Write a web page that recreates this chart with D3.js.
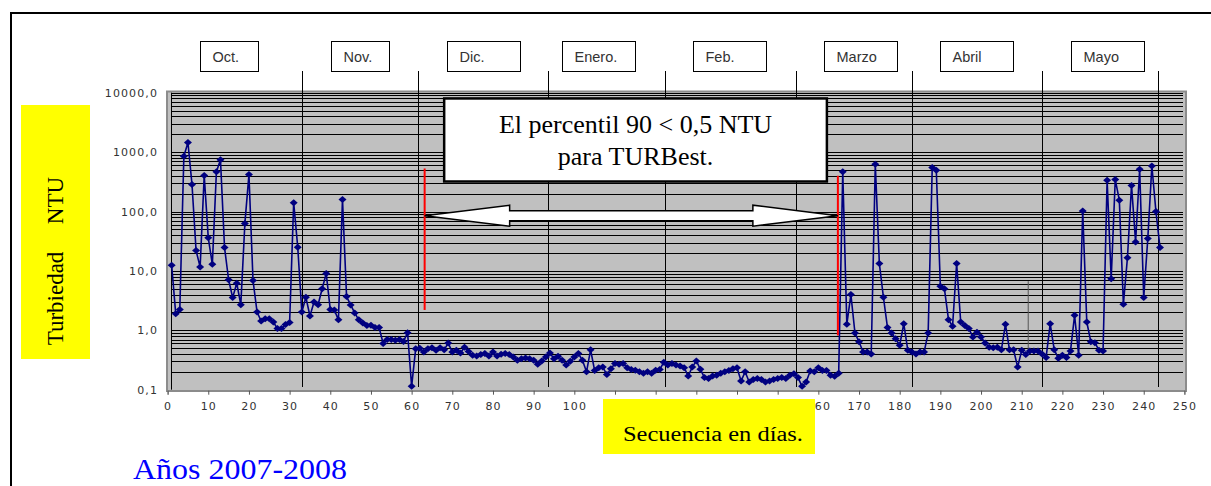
<!DOCTYPE html>
<html>
<head>
<meta charset="utf-8">
<script src="https://cdn.jsdelivr.net/npm/d3@7"></script>
<style>
  body { margin: 0; background: #fff; }
  svg { display: block; }
</style>
</head>
<body>
<svg id="chart" width="1211" height="486"></svg>
<script>
// Daily turbidity (NTU), day 1 .. 244 of the 2007-2008 season
const turbidity = [
  12.4, 1.9, 2.25, 850, 1450, 285, 22, 11.6, 405, 36,
  12.9, 465, 745, 24.7, 7.1, 3.55, 6.2, 2.7, 63, 418,
  6.9, 2.03, 1.43, 1.57, 1.57, 1.38, 1.07, 1.07, 1.25, 1.35,
  141, 25, 2.03, 3.6, 1.74, 3.0, 2.7, 5.0, 9.0, 2.23,
  2.2, 1.5, 160, 3.7, 2.67, 1.96, 1.5, 1.33, 1.21, 1.22,
  1.11, 1.11, 0.60, 0.70, 0.70, 0.68, 0.70, 0.65, 0.91, 0.114,
  0.49,
  0.50, 0.43, 0.49, 0.51, 0.46, 0.51, 0.47, 0.61, 0.43,
  0.46, 0.415, 0.52, 0.44, 0.38, 0.37, 0.39, 0.405, 0.37, 0.43,
  0.37, 0.394, 0.405, 0.39, 0.355, 0.313, 0.333, 0.342, 0.333, 0.313,
  0.268, 0.305, 0.355, 0.415, 0.333, 0.365, 0.313, 0.26, 0.30, 0.355,
  0.405, 0.313, 0.20, 0.47, 0.21, 0.235, 0.24, 0.18, 0.226, 0.275,
  0.268, 0.275, 0.235, 0.218, 0.212, 0.2, 0.19, 0.2, 0.19, 0.212,
  0.218, 0.29, 0.26,
  0.275, 0.26, 0.25, 0.235, 0.17, 0.24, 0.305,
  0.22, 0.16, 0.155, 0.17, 0.175, 0.19, 0.2, 0.21, 0.225, 0.235,
  0.14, 0.2, 0.135, 0.148, 0.154, 0.148, 0.135, 0.14, 0.148, 0.154,
  0.16, 0.154, 0.175, 0.186, 0.16, 0.114, 0.135, 0.207, 0.2, 0.235,
  0.21, 0.21, 0.175, 0.168, 0.19,
  465, 1.26, 4.0, 0.90, 0.64, 0.43, 0.43, 0.40, 623, 13.3,
  3.6, 1.11, 0.90, 0.72, 0.56, 1.29, 0.46, 0.43, 0.40, 0.43,
  0.43, 0.90, 550, 495, 5.5, 5.0, 1.51, 1.17, 13.3, 1.38,
  1.2, 1.07, 0.77, 0.93, 0.77, 0.61, 0.52, 0.51, 0.52, 0.47,
  1.26, 0.47,
  0.47, 0.24, 0.46, 0.39, 0.45, 0.45, 0.45, 0.40, 0.35, 1.29,
  0.47, 0.34, 0.38, 0.35, 0.45, 1.79, 0.38, 102, 1.38, 0.64,
  0.62, 0.46, 0.45, 335, 7.4, 345, 155, 2.74, 16.7, 275,
  30.7, 513, 3.55, 35, 585, 100, 24.7
];

const yTickValues = [0.1, 1, 10, 100, 1000, 10000];
const xTickValues = d3.range(0, 251, 10);

const monthNames = ["Oct.", "Nov.", "Dic.", "Enero.", "Feb.", "Marzo", "Abril", "Mayo"];
// day on which each month ends (separator lines)
const monthEndDays = [33, 61.6, 93.5, 122.2, 154.4, 183, 215, 243.4];
// day at which each month label box begins
const monthLabelDays = [7.9, 40.2, 68.7, 97, 129.2, 161.4, 189.9, 222];

// start and end of the low-turbidity period (red markers + arrow)
const periodDays = [63.2, 164.8];

const noteLines = ["El percentil 90 < 0,5 NTU", "para TURBest."];

// ---------- layout ----------
const svg = d3.select("#chart");
const x = d3.scaleLinear().domain([0, 250]).range([167.6, 1184.4]);
const y = d3.scaleLog().domain([0.1, 10000]).range([389.7, 92.7]);
const fmt = v => d3.format(".1f")(v).replace(".", ",");

// outer frame (top and left edges)
svg.append("path")
  .attr("d", "M11,486V13H1211")
  .attr("fill", "none").attr("stroke", "#000").attr("stroke-width", 2);

// plot background
svg.append("rect")
  .attr("x", 167).attr("y", 91.5)
  .attr("width", 1186 - 167).attr("height", 391 - 91.5)
  .attr("fill", "#c0c0c0").attr("stroke", "#8c8c8c").attr("stroke-width", 2);

// horizontal log grid lines
const gridVals = [];
for (let k = -1; k <= 3; k++) {
  for (let m = 1; m <= 9; m++) {
    const v = m * Math.pow(10, k);
    if (v > 0.1) gridVals.push(v);
  }
}
gridVals.push(10000);
svg.append("g").selectAll("line").data(gridVals).join("line")
  .attr("x1", 171).attr("x2", 1183)
  .attr("y1", d => Math.round(y(d)) + 0.5).attr("y2", d => Math.round(y(d)) + 0.5)
  .attr("stroke", "#000").attr("stroke-width", 1);

// y axis line
svg.append("line")
  .attr("x1", 171.5).attr("x2", 171.5).attr("y1", y(10000)).attr("y2", y(0.1))
  .attr("stroke", "#000").attr("stroke-width", 1);

// y tick labels
svg.append("g").selectAll("text").data(yTickValues).join("text")
  .attr("x", 158).attr("y", d => y(d) + 4)
  .attr("text-anchor", "end")
  .attr("font-family", "DejaVu Sans, sans-serif")
  .attr("font-size", 11).attr("letter-spacing", 1.1)
  .attr("fill", "#333")
  .text(fmt);

// x axis ticks and labels
const xAxis = d3.axisBottom(x).tickValues(xTickValues).tickSize(4).tickPadding(8);
const gx = svg.append("g").attr("transform", `translate(0,${y(0.1) + 1})`).call(xAxis);
gx.select(".domain").attr("stroke", "#8c8c8c");
gx.selectAll(".tick line").attr("stroke", "#555");
gx.selectAll(".tick text")
  .attr("font-family", "DejaVu Sans, sans-serif")
  .attr("font-size", 11).attr("letter-spacing", 1.1)
  .attr("fill", "#333");

// month separators
svg.append("g").selectAll("line").data(monthEndDays).join("line")
  .attr("x1", d => Math.round(x(d)) + 0.5).attr("x2", d => Math.round(x(d)) + 0.5)
  .attr("y1", 71).attr("y2", 387)
  .attr("stroke", "#000").attr("stroke-width", 1);

// short divider inside May
svg.append("line")
  .attr("x1", x(211.6)).attr("x2", x(211.6)).attr("y1", y(6.7)).attr("y2", y(0.46))
  .attr("stroke", "#555").attr("stroke-width", 1);

// month label boxes
const months = svg.append("g").selectAll("g").data(monthNames).join("g")
  .attr("transform", (d, i) => `translate(${Math.round(x(monthLabelDays[i])) + 0.5},41.5)`);
months.append("rect")
  .attr("width", (d, i) => i < 2 ? 58 : 73).attr("height", 30)
  .attr("fill", "#fff").attr("stroke", "#000").attr("stroke-width", 1);
months.append("text")
  .attr("x", 12).attr("y", 20.5)
  .attr("font-family", "Liberation Sans, Arial, sans-serif")
  .attr("font-size", 14.5).attr("fill", "#333")
  .text(d => d);

// data series
const pts = turbidity.map((v, i) => ({ day: i + 1, v }));
const line = d3.line().x(d => x(d.day)).y(d => y(d.v));
svg.append("path").datum(pts)
  .attr("d", line)
  .attr("fill", "none").attr("stroke", "#000080").attr("stroke-width", 1.6)
  .attr("stroke-linejoin", "round");
svg.append("g").selectAll("path").data(pts).join("path")
  .attr("transform", d => `translate(${x(d.day)},${y(d.v)})`)
  .attr("d", "M0,-3.5L4,0L0,3.5L-4,0Z")
  .attr("fill", "#000080");

// red markers of the period
const redSpans = [[530, 2.2], [400, 0.82]];
svg.append("g").selectAll("line").data(periodDays).join("line")
  .attr("x1", d => x(d)).attr("x2", d => x(d))
  .attr("y1", (d, i) => y(redSpans[i][0])).attr("y2", (d, i) => y(redSpans[i][1]))
  .attr("stroke", "#ff0000").attr("stroke-width", 2);

// double-headed arrow across the period
const ax0 = x(periodDays[0]), ax1 = x(periodDays[1]), ay = y(85);
const head = 85, hh = 10.5, sh = 5;
svg.append("path")
  .attr("d", `M${ax0},${ay}L${ax0 + head},${ay - hh}L${ax0 + head},${ay - sh}L${ax1 - head},${ay - sh}` +
             `L${ax1 - head},${ay - hh}L${ax1},${ay}L${ax1 - head},${ay + hh}L${ax1 - head},${ay + sh}` +
             `L${ax0 + head},${ay + sh}L${ax0 + head},${ay + hh}Z`)
  .attr("fill", "#fff").attr("stroke", "#000").attr("stroke-width", 1.5);

// note box
const bx0 = x(68), bx1 = x(162.1), by0 = y(8000), by1 = y(320);
svg.append("rect")
  .attr("x", bx0).attr("y", by0).attr("width", bx1 - bx0).attr("height", by1 - by0)
  .attr("fill", "#fff").attr("stroke", "#000").attr("stroke-width", 2.5);
svg.append("g").selectAll("text").data(noteLines).join("text")
  .attr("x", (bx0 + bx1) / 2).attr("y", (d, i) => by0 + 35 + i * 32)
  .attr("text-anchor", "middle")
  .attr("font-family", "Liberation Serif, Times New Roman, serif")
  .attr("font-size", 26).attr("fill", "#000")
  .text(d => d);

// y axis title
svg.append("rect").attr("x", 21).attr("y", 105).attr("width", 69).attr("height", 254).attr("fill", "#ffff00");
const yTitle = svg.append("g").attr("transform", "translate(63,0)");
yTitle.append("text").attr("transform", "translate(0,298.5) rotate(-90)")
  .attr("text-anchor", "middle")
  .attr("font-family", "Liberation Serif, Times New Roman, serif").attr("font-size", 23)
  .text("Turbiedad");
yTitle.append("text").attr("transform", "translate(0,200.5) rotate(-90)")
  .attr("text-anchor", "middle")
  .attr("font-family", "Liberation Serif, Times New Roman, serif").attr("font-size", 23)
  .text("NTU");

// x axis title
svg.append("rect").attr("x", 603).attr("y", 399).attr("width", 212).attr("height", 55).attr("fill", "#ffff00");
svg.append("text").attr("x", 623).attr("y", 441)
  .attr("font-family", "Liberation Serif, Times New Roman, serif").attr("font-size", 20)
  .attr("textLength", 180).attr("lengthAdjust", "spacingAndGlyphs")
  .text("Secuencia en días.");

// season caption
svg.append("text").attr("x", 133).attr("y", 479)
  .attr("font-family", "Liberation Serif, Times New Roman, serif").attr("font-size", 30)
  .attr("fill", "#0000ff")
  .attr("textLength", 214).attr("lengthAdjust", "spacingAndGlyphs")
  .text("Años 2007-2008");
</script>
</body>
</html>
